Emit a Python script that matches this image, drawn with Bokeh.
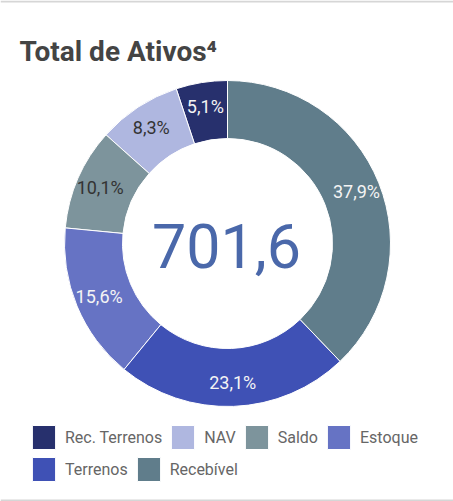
import math
from bokeh.plotting import figure
from bokeh.models import ColumnDataSource, Range1d, Legend, LegendItem, Label, BoxAnnotation
from bokeh.core.properties import value
from bokeh.embed import file_html
from bokeh.resources import INLINE

# ---- data ----
categories = ["Rec. Terrenos", "NAV", "Saldo", "Estoque", "Terrenos", "Recebível"]
percentages = [5.1, 8.3, 10.1, 15.6, 23.1, 37.9]
pct_labels = ["5,1%", "8,3%", "10,1%", "15,6%", "23,1%", "37,9%"]
colors = ["#27306d", "#afb7e0", "#7d949c", "#6673c4", "#3f51b5", "#607d8b"]
label_colors = ["#f4f4f4", "#333333", "#333333", "#f4f4f4", "#f4f4f4", "#f4f4f4"]
total_text = "701,6"
title_text = "Total de Ativos\u2074"

# ---- geometry (data units == page pixels, y flipped: y = 501 - page_y) ----
W, H = 453, 501
CX, CY = 227, H - 243
R_OUT, R_IN, R_LAB = 163, 105, 139

total = sum(percentages)
starts, ends, lx, ly = [], [], [], []
cum = 0.0
for v in percentages:
    a0 = math.pi / 2 + 2 * math.pi * cum / total
    cum += v
    a1 = math.pi / 2 + 2 * math.pi * cum / total
    starts.append(a0)
    ends.append(a1)
    am = (a0 + a1) / 2
    lx.append(CX + R_LAB * math.cos(am))
    ly.append(CY + R_LAB * math.sin(am))

src = ColumnDataSource(dict(
    cat=categories, start=starts, end=ends, color=colors,
    lx=lx, ly=ly, lab=pct_labels, lcol=label_colors,
    cx=[CX] * len(categories), cy=[CY] * len(categories),
))

p = figure(width=W, height=H, output_backend="svg", toolbar_location=None,
           x_range=Range1d(0, W), y_range=Range1d(0, H),
           min_border=0, outline_line_color=None)
p.axis.visible = False
p.grid.visible = False
p.background_fill_color = "white"
p.border_fill_color = "white"

# card border lines (top and bottom)
p.add_layout(BoxAnnotation(bottom=H - 2, top=H, fill_color="#d6d6d6", fill_alpha=1, line_color=None))
p.add_layout(BoxAnnotation(bottom=0, top=2, fill_color="#d6d6d6", fill_alpha=1, line_color=None))

wedges = p.annular_wedge(x="cx", y="cy", inner_radius=R_IN, outer_radius=R_OUT,
                         start_angle="start", end_angle="end", direction="anticlock",
                         fill_color="color", line_color="white", line_width=1,
                         source=src)

p.text(x="lx", y="ly", text="lab", text_color="lcol", source=src,
       text_font=value("Roboto"), text_font_size=value("18px"),
       text_align="center", text_baseline="middle")

p.add_layout(Label(x=CX - 1, y=CY - 2, text=total_text, text_font="Roboto",
                   text_font_size="61px", text_color="#4a68aa",
                   text_align="center", text_baseline="middle"))

p.add_layout(Label(x=19, y=H - 51, text=title_text, text_font="Roboto",
                   text_font_size="28px", text_font_style="bold",
                   text_color="#444444", text_align="left",
                   text_baseline="alphabetic"))

items = [LegendItem(label=c, renderers=[wedges], index=i) for i, c in enumerate(categories)]

def make_legend(its, loc):
    lg = Legend(items=its, orientation="horizontal", location=loc,
                glyph_width=29, glyph_height=30, label_height=30,
                label_standoff=7, spacing=6, padding=0, margin=0,
                border_line_color=None, background_fill_alpha=0,
                label_text_font="Roboto", label_text_font_size="16px",
                label_text_color="#666666")
    return lg

p.add_layout(make_legend(items[:4], (29, 49)), "center")
p.add_layout(make_legend(items[4:], (29, 17)), "center")

open("out.html", "w").write(file_html(p, INLINE))
